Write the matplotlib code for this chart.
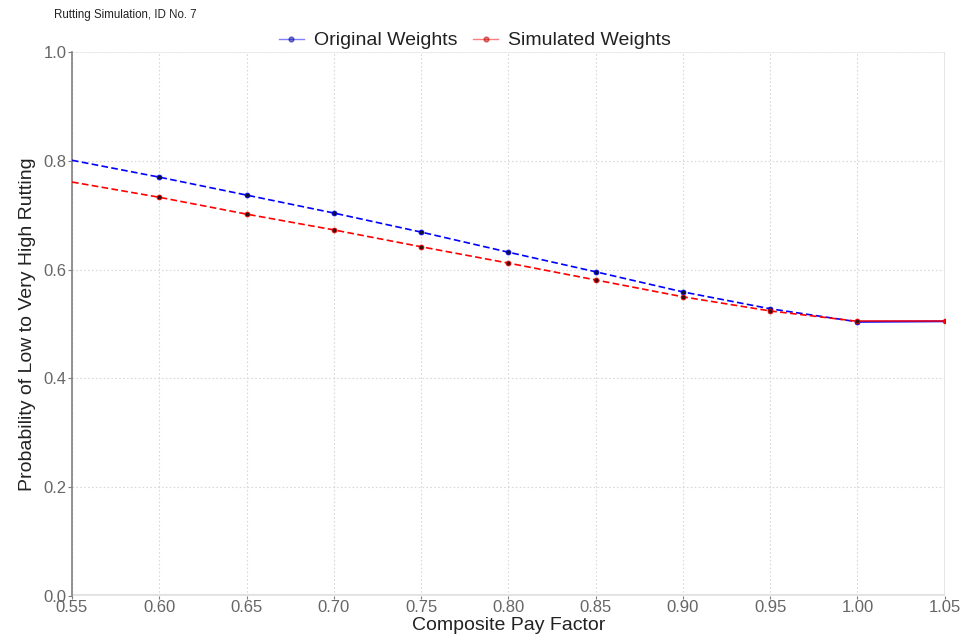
import matplotlib
matplotlib.use("Agg")
import matplotlib.pyplot as plt
from matplotlib.lines import Line2D

plt.rcParams['font.family'] = ['Liberation Sans', 'DejaVu Sans']

pay_factor = [0.55, 0.60, 0.65, 0.70, 0.75, 0.80, 0.85, 0.90, 0.95, 1.00, 1.05]
original = [0.801, 0.770, 0.737, 0.704, 0.669, 0.632, 0.596, 0.559, 0.528, 0.504, 0.505]
simulated = [0.761, 0.733, 0.702, 0.673, 0.642, 0.612, 0.581, 0.550, 0.524, 0.505, 0.505]
x_ticks = [0.55, 0.60, 0.65, 0.70, 0.75, 0.80, 0.85, 0.90, 0.95, 1.00, 1.05]
y_ticks = [0.0, 0.2, 0.4, 0.6, 0.8, 1.0]

fig = plt.figure(figsize=(9.69, 6.43), dpi=100)
ax = fig.add_axes([0.0743, 0.0731, 0.9007, 0.8460])

blue = '#0000ff'
red = '#ff0000'

# dashed portion up to 1.00
ax.plot(pay_factor[:10], original[:10], color=blue, lw=1.2, ls=(0, (4, 2)), zorder=3)
ax.plot(pay_factor[:10], simulated[:10], color=red, lw=1.2, ls=(0, (4, 2)), zorder=3)
# solid final segment
ax.plot(pay_factor[9:], original[9:], color=blue, lw=1.4, zorder=3)
ax.plot(pay_factor[9:], simulated[9:], color=red, lw=1.4, alpha=0.75, zorder=3)

# markers
ax.plot(pay_factor[1:10], original[1:10], ls='none', marker='o', ms=3.5,
        mfc='#111133', mec=blue, mew=0.6, zorder=4)
ax.plot(pay_factor[1:10], simulated[1:10], ls='none', marker='o', ms=3.5,
        mfc='#331111', mec=red, mew=0.6, zorder=4)
ax.plot(pay_factor[10:], simulated[10:], ls='none', marker='o', ms=3,
        mfc=red, mec=red, zorder=4)

ax.set_xlim(0.55, 1.05)
ax.set_ylim(0.0, 1.0)
ax.set_xticks(x_ticks)
ax.set_xticklabels([f"{v:.2f}" for v in x_ticks])
ax.set_yticks(y_ticks)
ax.set_yticklabels([f"{v:.1f}" for v in y_ticks])

ax.grid(True, color='#d9d9d9', ls=(0, (1.5, 2)), lw=0.8)
ax.set_axisbelow(True)
# solid light borders at top/bottom/right
ax.axhline(1.0, color='#ebebeb', lw=1.2, zorder=1)
ax.axhline(0.0, color='#e3e3e3', lw=3, zorder=1)
ax.axvline(1.05, color='#e3e3e3', lw=2, zorder=1)

for s in ['top', 'right', 'bottom']:
    ax.spines[s].set_visible(False)
ax.spines['left'].set_color('#7f7f7f')
ax.spines['left'].set_linewidth(1.2)

ax.tick_params(axis='both', colors='#7f7f7f', labelcolor='#666666', labelsize=12)
ax.tick_params(axis='x', length=2, pad=1)
ax.tick_params(axis='y', length=3, pad=1)

ax.set_xlabel('Composite Pay Factor', fontsize=14, color='#222222', labelpad=1)
ax.set_ylabel('Probability of Low to Very High Rutting', fontsize=14, color='#222222', labelpad=5)

fig.text(0.056, 0.977, 'Rutting Simulation, ID No. 7', fontsize=8.3, color='#222222', va='center', ha='left')

handles = [
    Line2D([0], [0], color=blue, lw=1, alpha=0.5, marker='o', ms=3.5, mfc='#000099', mec='#000099'),
    Line2D([0], [0], color=red, lw=1, alpha=0.5, marker='o', ms=3.5, mfc='#bb0000', mec='#bb0000'),
]
fig.legend(handles, ['Original Weights', 'Simulated Weights'], loc='center',
           bbox_to_anchor=(0.49, 0.937), ncol=2, frameon=False, fontsize=14,
           handlelength=1.3, handletextpad=0.5, columnspacing=0.8,
           labelcolor='#222222')

fig.savefig('out.png', dpi=100)
